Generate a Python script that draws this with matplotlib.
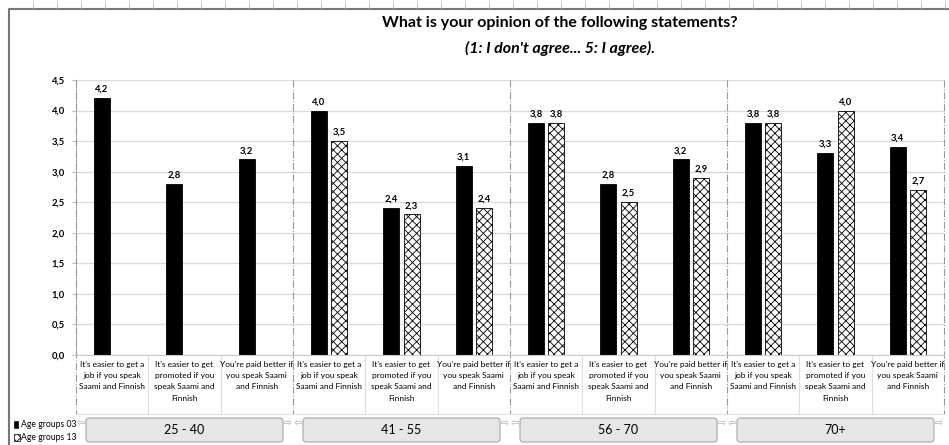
import numpy as np
import matplotlib.pyplot as plt
from matplotlib.patches import FancyBboxPatch, Rectangle

plt.rcParams['font.family'] = ['Lato', 'DejaVu Sans']
plt.rcParams['hatch.linewidth'] = 0.6

age_groups = ['25 - 40', '41 - 55', '56 - 70', '70+']
statements = [
    "It's easier to get a\njob if you speak\nSaami and Finnish",
    "It's easier to get\npromoted if you\nspeak Saami and\nFinnish",
    "You're paid better if\nyou speak Saami\nand Finnish",
]
# survey 2003, by age group and statement
values_03 = [4.2, 2.8, 3.2,
             4.0, 2.4, 3.1,
             3.8, 2.8, 3.2,
             3.8, 3.3, 3.4]
# survey 2013 (no answers for the youngest group)
values_13 = [None, None, None,
             3.5, 2.3, 2.4,
             3.8, 2.5, 2.9,
             3.8, 4.0, 2.7]
yticks = [0.0, 0.5, 1.0, 1.5, 2.0, 2.5, 3.0, 3.5, 4.0, 4.5]
legend_labels = ['Age groups 03', 'Age groups 13']

W, H = 949, 445
fig = plt.figure(figsize=(W / 100, H / 100), dpi=100)

# outer chart frame
frame = fig.add_axes([0, 0, 1, 1])
frame.set_xlim(0, W)
frame.set_ylim(H, 0)
frame.axis('off')
frame.plot([9, 9, W], [H, 9, 9], color='#777777', lw=1.5)
for x in range(33, W, 24):
    frame.plot([x, x], [2, 8], color='#bbbbbb', lw=0.6)

fig.text(0.59, 0.948, 'What is your opinion of the following statements?',
         ha='center', va='center', fontsize=11.5, fontweight='bold')
fig.text(0.59, 0.89, "(1: I don't agree... 5: I agree).",
         ha='center', va='center', fontsize=11.5, fontweight='bold', style='italic')

x0, x1 = 76, 944
ytop, ybot = 80, 355
ax = fig.add_axes([x0 / W, 1 - ybot / H, (x1 - x0) / W, (ybot - ytop) / H])

n = len(values_03)
x = np.arange(n)
bw = 0.22
off = 0.14
ax.bar(x - off, values_03, width=bw, color='black', edgecolor='black', lw=0.6, zorder=3)
xs13 = [i for i in range(n) if values_13[i] is not None]
v13 = [values_13[i] for i in xs13]
ax.bar(np.array(xs13) + off, v13, width=bw, color='white', edgecolor='black',
       hatch='xxxx', lw=0.6, zorder=3)

for i, v in enumerate(values_03):
    ax.text(i - off, v + 0.07, f'{v:.1f}'.replace('.', ','), ha='center', va='bottom',
            fontsize=6.8, fontweight='bold')
for i, v in zip(xs13, v13):
    ax.text(i + off, v + 0.07, f'{v:.1f}'.replace('.', ','), ha='center', va='bottom',
            fontsize=6.8, fontweight='bold')

ax.set_xlim(-0.5, n - 0.5)
ax.set_ylim(0, 4.5)
ax.set_yticks(yticks)
ax.set_yticklabels([f'{t:.1f}'.replace('.', ',') for t in yticks], fontsize=6.8,
                   fontweight='bold')
ax.tick_params(axis='y', length=3, color='#bbbbbb', pad=5)
ax.set_xticks([])
ax.grid(axis='y', color='#d9d9d9', lw=0.9, zorder=0)
for s in ['top', 'right', 'bottom']:
    ax.spines[s].set_visible(False)
ax.spines['left'].set_color('#bbbbbb')

# group separators and category label cells
frame.set_zorder(5)
frame.patch.set_alpha(0)
cw = (x1 - x0) / n
for g in range(len(age_groups) + 1):
    gx = x0 + g * 3 * cw
    frame.plot([gx, gx], [ytop, 414], color='#999999', lw=0.8, ls='-.')
for i in range(n):
    if i % 3:
        cx = x0 + i * cw
        frame.plot([cx, cx], [ybot, 414], color='#dddddd', lw=0.8)
frame.plot([x0, x1], [ybot, ybot], color='#cccccc', lw=0.8)
frame.plot([x0, x1], [414, 414], color='#dddddd', lw=0.8)
for i in range(n):
    cx = x0 + (i + 0.5) * cw
    frame.text(cx, 361, statements[i % 3], ha='center', va='top', fontsize=6.0,
               linespacing=1.7)

# age group buttons
for g, name in enumerate(age_groups):
    bx = x0 + g * 3 * cw + 10
    bwid = 3 * cw - 20
    box = FancyBboxPatch((bx, 418), bwid, 24, boxstyle='round,pad=0,rounding_size=3',
                         facecolor='#e6e6e6', edgecolor='#a6a6a6', lw=0.8)
    frame.add_patch(box)
    frame.text(bx + bwid / 2, 430, name, ha='center', va='center', fontsize=9)
    frame.text(bx - 5, 424, '\u21e6', ha='center', va='center', fontsize=7, color='#aaaaaa',
               family='DejaVu Sans')
    frame.text(bx + bwid + 5, 424, '\u21e8', ha='center', va='center', fontsize=7, color='#aaaaaa',
               family='DejaVu Sans')

# legend
frame.add_patch(Rectangle((14, 421), 4, 7, facecolor='black', edgecolor='black', lw=0.5))
frame.add_patch(Rectangle((14, 434), 6, 7, facecolor='white', edgecolor='black', hatch='xxxx', lw=0.5))
frame.text(21, 424.5, legend_labels[0], ha='left', va='center', fontsize=6.2)
frame.text(21, 437.5, legend_labels[1], ha='left', va='center', fontsize=6.2)

fig.savefig('out.png', dpi=100)
